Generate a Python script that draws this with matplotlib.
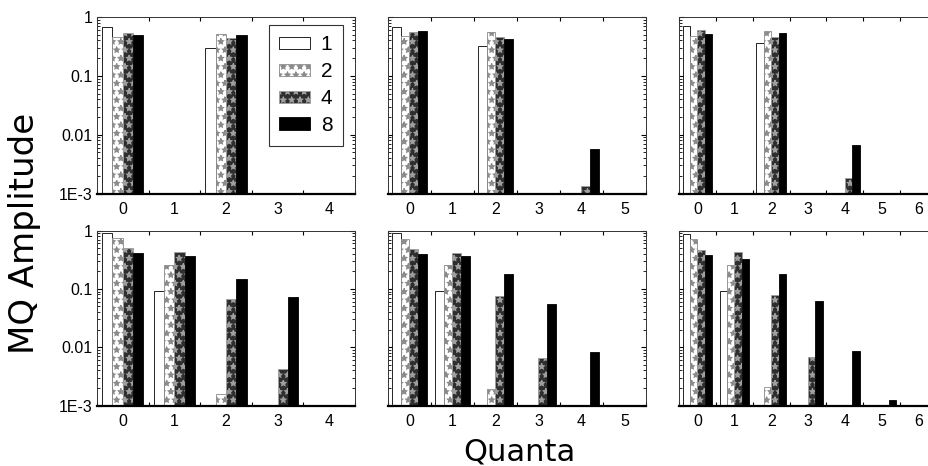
import numpy as np
import matplotlib
matplotlib.use("Agg")
import matplotlib.pyplot as plt
from matplotlib.ticker import FixedLocator, NullFormatter, LogLocator

plt.rcParams['font.family'] = ['Liberation Sans', 'DejaVu Sans']
plt.rcParams['hatch.linewidth'] = 0.8

series_labels = ['1', '2', '4', '8']

quanta_a = [0, 1, 2, 3, 4]
quanta_b = [0, 1, 2, 3, 4, 5]
quanta_c = [0, 1, 2, 3, 4, 5, 6]

# top row
panel_a = [[0.67, 0, 0.30, 0, 0],
           [0.45, 0, 0.52, 0, 0],
           [0.53, 0, 0.44, 0, 0],
           [0.49, 0, 0.49, 0, 0]]
panel_b = [[0.67, 0, 0.32, 0, 0, 0],
           [0.47, 0, 0.55, 0, 0, 0],
           [0.56, 0, 0.45, 0, 0.00134, 0],
           [0.58, 0, 0.42, 0, 0.0058, 0]]
panel_c = [[0.69, 0, 0.36, 0, 0, 0, 0],
           [0.48, 0, 0.58, 0, 0, 0, 0],
           [0.60, 0, 0.46, 0, 0.0018, 0, 0],
           [0.52, 0, 0.53, 0, 0.0066, 0, 0]]
# bottom row
panel_d = [[0.91, 0.091, 0, 0, 0],
           [0.75, 0.26, 0.00155, 0, 0],
           [0.50, 0.43, 0.067, 0.0042, 0],
           [0.41, 0.37, 0.145, 0.073, 0]]
panel_e = [[0.90, 0.093, 0, 0, 0, 0],
           [0.72, 0.26, 0.0019, 0, 0, 0],
           [0.49, 0.41, 0.074, 0.0065, 0, 0],
           [0.39, 0.36, 0.18, 0.056, 0.0082, 0]]
panel_f = [[0.87, 0.093, 0, 0, 0, 0, 0],
           [0.72, 0.26, 0.0021, 0, 0, 0, 0],
           [0.47, 0.42, 0.078, 0.0067, 0, 0, 0],
           [0.38, 0.33, 0.18, 0.063, 0.0085, 0.00126, 0]]

ytick_vals = [1e-3, 1e-2, 1e-1, 1]
ytick_labels = ['1E-3', '0.01', '0.1', '1']

styles = [dict(facecolor='white', edgecolor='black', hatch=None),
          dict(facecolor='white', edgecolor='#8a8a8a', hatch='**'),
          dict(facecolor='#2e2e2e', edgecolor='#a0a0a0', hatch='**'),
          dict(facecolor='black', edgecolor='black', hatch=None)]

W, H = 929, 466
fig = plt.figure(figsize=(W / 100, H / 100), dpi=100)

col_left = [97, 388, 679]
ax_w = 258
rows = [(17, 193.5), (230.5, 405.5)]

panels = [[(panel_a, quanta_a), (panel_b, quanta_b), (panel_c, quanta_c)],
          [(panel_d, quanta_a), (panel_e, quanta_b), (panel_f, quanta_c)]]

bw = 0.2
base = 1e-6
for r, (top, bot) in enumerate(rows):
    for c, (data, quanta) in enumerate(panels[r]):
        ax = fig.add_axes([col_left[c] / W, (H - bot) / H, ax_w / W, (bot - top) / H])
        x = np.array(quanta, dtype=float)
        handles = []
        for k, (vals, st) in enumerate(zip(data, styles)):
            v = np.maximum(np.array(vals, dtype=float), base)
            b = ax.bar(x + (k - 1.5) * bw, v - base, bottom=base, width=bw,
                       facecolor=st['facecolor'], edgecolor=st['edgecolor'],
                       hatch=st['hatch'], linewidth=0.6, label=series_labels[k],
                       zorder=2)
            handles.append(b)
        ax.set_yscale('log')
        ax.set_ylim(1e-3, 1)
        ax.set_xlim(-0.5, len(quanta) - 0.5)
        ax.xaxis.set_major_locator(FixedLocator(quanta))
        ax.set_xticklabels([str(q) for q in quanta])
        ax.xaxis.set_minor_locator(FixedLocator(np.arange(-0.5, len(quanta), 0.5)))
        ax.tick_params(axis='x', which='major', length=0, labelsize=11.5, pad=6)
        ax.tick_params(axis='x', which='minor', direction='in', length=3,
                       width=0.8, top=True, bottom=True)
        ax.yaxis.set_major_locator(FixedLocator(ytick_vals))
        ax.yaxis.set_minor_locator(LogLocator(base=10, subs=np.arange(2, 10)))
        ax.yaxis.set_minor_formatter(NullFormatter())
        if c == 0:
            ax.set_yticklabels(ytick_labels)
        else:
            ax.set_yticklabels([])
        ax.tick_params(axis='y', which='major', direction='in', length=3.5,
                       width=0.8, left=True, right=True, labelsize=11.5, pad=3)
        ax.tick_params(axis='y', which='minor', direction='in', length=2,
                       width=0.6, left=True, right=True)
        for s in ['top', 'left', 'right']:
            ax.spines[s].set_linewidth(0.7)
            ax.spines[s].set_color('#333333')
        ax.spines['bottom'].set_linewidth(1.6)
        ax.spines['bottom'].set_color('black')
        if r == 0 and c == 0:
            leg = ax.legend(handles=handles, loc='upper right',
                            bbox_to_anchor=(0.953, 0.955), fontsize=15,
                            frameon=True, fancybox=False, edgecolor='black',
                            handlelength=1.5, handleheight=0.55,
                            labelspacing=0.38, handletextpad=0.5,
                            borderpad=0.5, borderaxespad=0)
            leg.get_frame().set_linewidth(0.8)

fig.text(25 / W, 1 - 233 / H, 'MQ Amplitude', rotation=90, fontsize=24.5,
         ha='center', va='center', family=['DejaVu Sans'])
fig.text(519 / W, 1 - 461 / H, 'Quanta', fontsize=22, ha='center',
         va='baseline', family=['DejaVu Sans'])

fig.savefig('out.png', dpi=100)
